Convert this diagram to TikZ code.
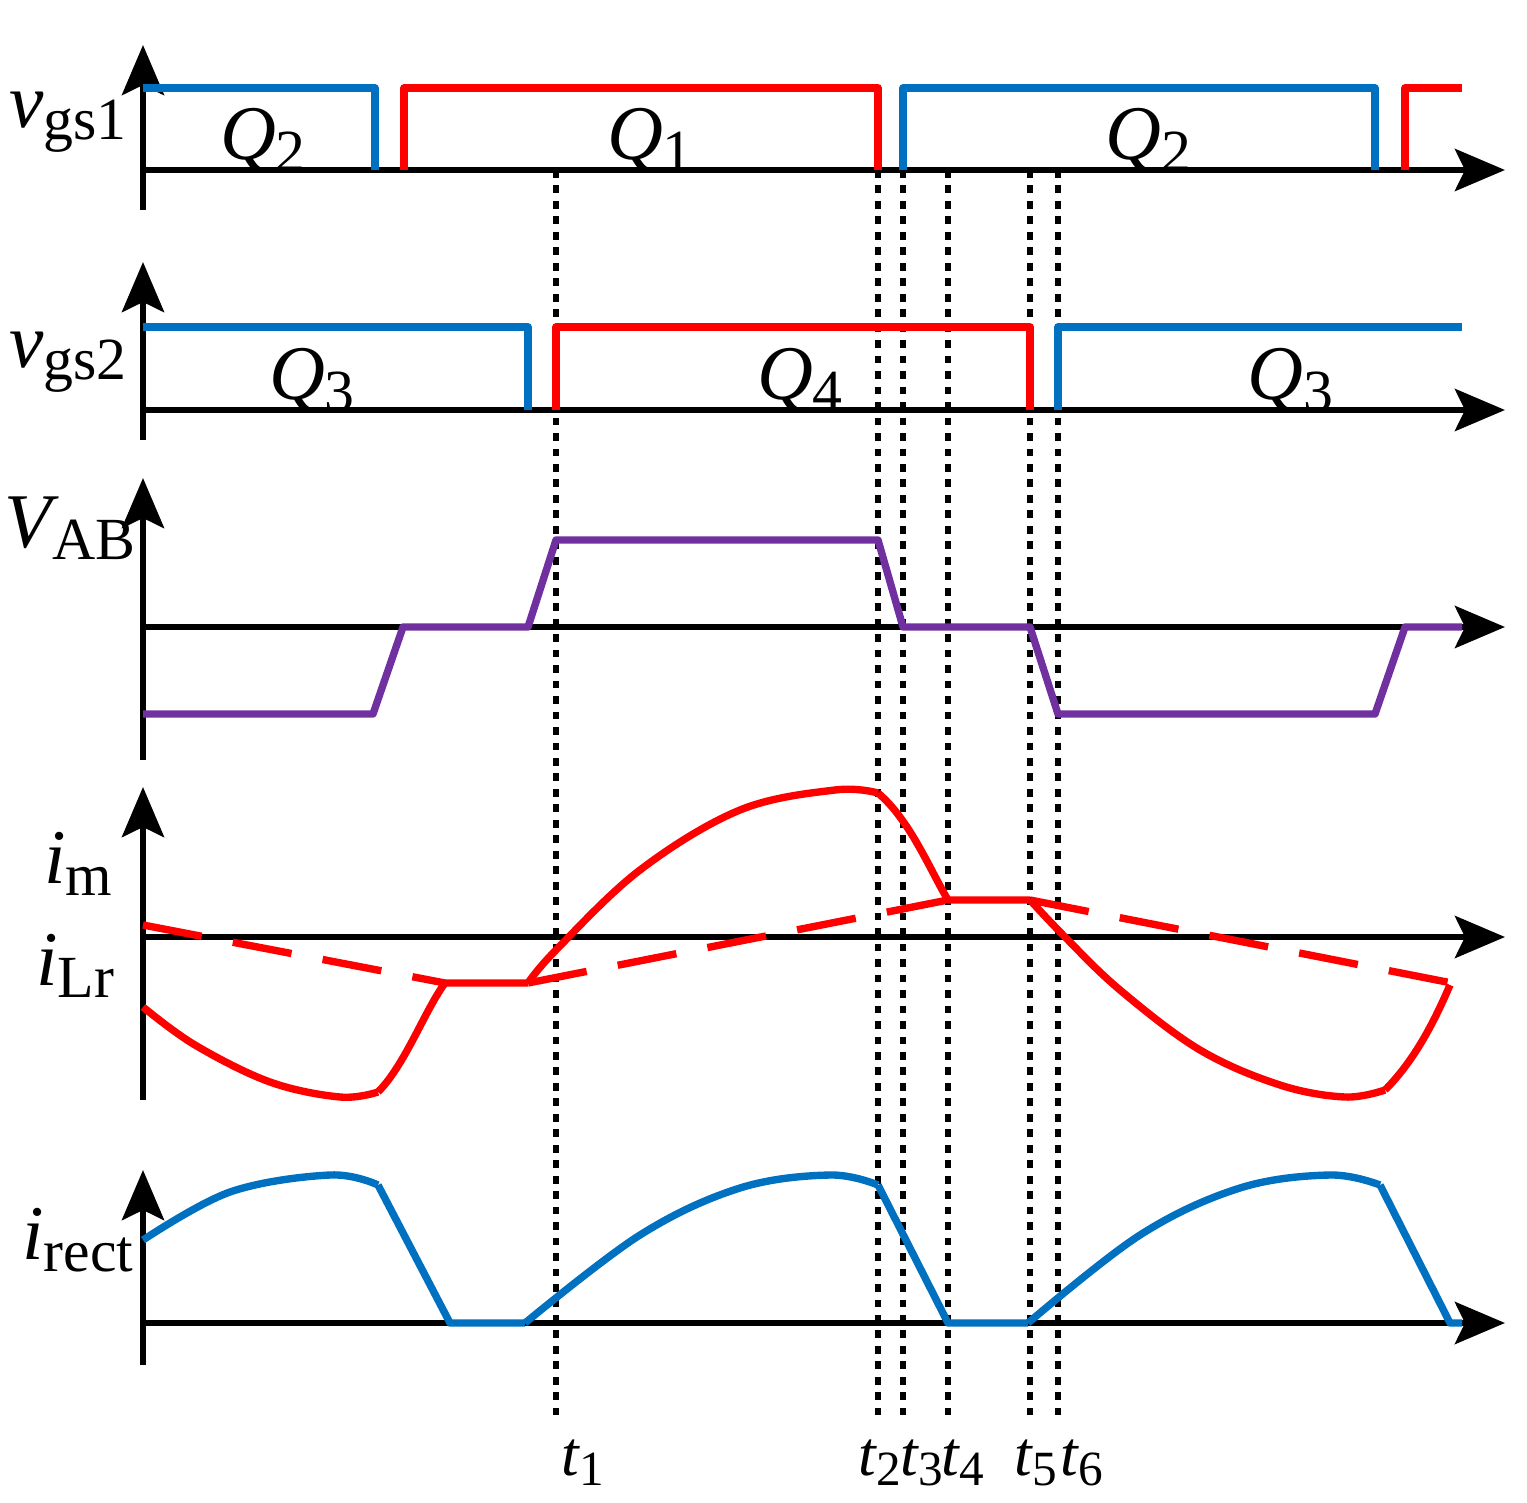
\documentclass[tikz,border=0pt]{standalone}
\usepackage{fontspec}
\setmainfont{Liberation Serif}
\usetikzlibrary{arrows.meta}
\definecolor{bl}{RGB}{0,112,192}
\definecolor{rd}{RGB}{255,0,0}
\definecolor{pu}{RGB}{112,48,160}
\newcommand{\lab}[2]{{\itshape #1}\raisebox{-0.35ex}{\fontsize{17}{17}\selectfont #2}}
\newcommand{\tlab}[2]{{\itshape #1}\raisebox{-0.35ex}{\fontsize{14}{14}\selectfont #2}}
\begin{document}
\begin{tikzpicture}[x=0.01cm,y=-0.01cm,
 ax/.style={line width=1.8pt,-{Stealth[length=0.5cm,width=0.42cm,inset=0.1cm]}},
 wv/.style={line width=2.1pt,line join=round},
 dl/.style={line width=1.5pt,dash pattern=on 2.2pt off 2.2pt},
 lb/.style={font=\fontsize{22}{22}\selectfont,inner sep=0pt},
 tl/.style={font=\fontsize{18}{18}\selectfont,inner sep=0pt}]
\useasboundingbox (0,0) rectangle (1527,1503);
% axes
\foreach \yb/\yt/\yh in {210/45/170,440/262/410,760/478/627,1100/787/937,1365/1170/1323}{
 \draw[ax] (143,\yb) -- (143,\yt);
 \draw[ax] (143,\yh) -- (1505,\yh);
}
% dotted
\foreach \x in {556,878,903,948,1030,1058} \draw[dl] (\x,170) -- (\x,1415);
% panel 1
\draw[wv,bl] (143,88) -- (375,88) -- (375,170);
\draw[wv,rd] (404,170) -- (404,88) -- (878,88) -- (878,170);
\draw[wv,bl] (903,170) -- (903,88) -- (1375,88) -- (1375,170);
\draw[wv,rd] (1405,170) -- (1405,88) -- (1462,88);
\node[lb] (q2a) at (263,140) {\lab{Q}{2}};
\node[lb] (q1) at (650,140) {\lab{Q}{1}};
\node[lb] (q2b) at (1148,140) {\lab{Q}{2}};
\node[lb] (v1) at (68,122) {\lab{v}{gs1}};
% panel 2
\draw[wv,bl] (143,327) -- (528,327) -- (528,410);
\draw[wv,rd] (556,410) -- (556,327) -- (1030,327) -- (1030,410);
\draw[wv,bl] (1058,410) -- (1058,327) -- (1462,327);
\node[lb] (q3a) at (312,380) {\lab{Q}{3}};
\node[lb] (q4) at (800,380) {\lab{Q}{4}};
\node[lb] (q3b) at (1290,380) {\lab{Q}{3}};
\node[lb] (v2) at (68,362) {\lab{v}{gs2}};
% panel 3
\draw[wv,pu] (143,714)--(373,714)--(403,627)--(528,627)--(556,540)--(878,540)--(903,627)--(1030,627)--(1058,714)--(1375,714)--(1405,627)--(1462,627);
\node[lb] (vab) at (70,528) {\lab{V}{AB}};
% panel 4
\draw[wv,rd] plot[smooth,tension=0.6] coordinates {(143,1007)(195,1045)(270,1082)(340,1097)(378,1092)};
\draw[wv,rd] (378,1092) .. controls (405,1065) and (425,1010) .. (445,983) -- (528,983);
\draw[wv,rd] plot[smooth,tension=0.6] coordinates {(528,983)(556,950)(640,870)(740,810)(835,790)(878,793)};
\draw[wv,rd] (878,793) .. controls (910,820) and (930,870) .. (948,900) -- (1030,900);
\draw[wv,rd] plot[smooth,tension=0.6] coordinates {(1030,900)(1065,937)(1120,990)(1200,1050)(1280,1085)(1345,1097)(1385,1090)};
\draw[wv,rd] (1385,1090) .. controls (1415,1060) and (1435,1020) .. (1450,985);
\draw[wv,rd,dash pattern=on 17pt off 9pt] (143,925) -- (445,983);
\draw[wv,rd,dash pattern=on 17pt off 9pt] (528,983) -- (948,900);
\draw[wv,rd,dash pattern=on 17pt off 9pt] (1030,900) -- (1462,985);
\node[lb] (im) at (78,864) {\lab{i}{m}};
\node[lb] (ilr) at (75,966) {\lab{i}{Lr}};
% panel 5
\draw[wv,bl] plot[smooth,tension=0.6] coordinates {(143,1240)(230,1192)(330,1175)(378,1185)};
\draw[wv,bl] (378,1185) -- (450,1323) -- (525,1323);
\draw[wv,bl] plot[smooth,tension=0.6] coordinates {(525,1323)(640,1235)(740,1188)(830,1175)(878,1185)};
\draw[wv,bl] (878,1185) -- (948,1323) -- (1028,1323);
\draw[wv,bl] plot[smooth,tension=0.6] coordinates {(1028,1323)(1140,1235)(1240,1188)(1330,1175)(1380,1185)};
\draw[wv,bl] (1380,1185) -- (1450,1323) -- (1462,1323);
\node[lb] (ir) at (78,1240) {\lab{i}{rect}};
% t labels
\node[tl] (t1) at (583,1463) {\tlab{t}{1}};
\node[tl] (t2) at (880,1463) {\tlab{t}{2}};
\node[tl] (t3) at (922,1463) {\tlab{t}{3}};
\node[tl] (t4) at (963,1463) {\tlab{t}{4}};
\node[tl] (t5) at (1036,1463) {\tlab{t}{5}};
\node[tl] (t6) at (1082,1463) {\tlab{t}{6}};
\end{tikzpicture}
\end{document}
